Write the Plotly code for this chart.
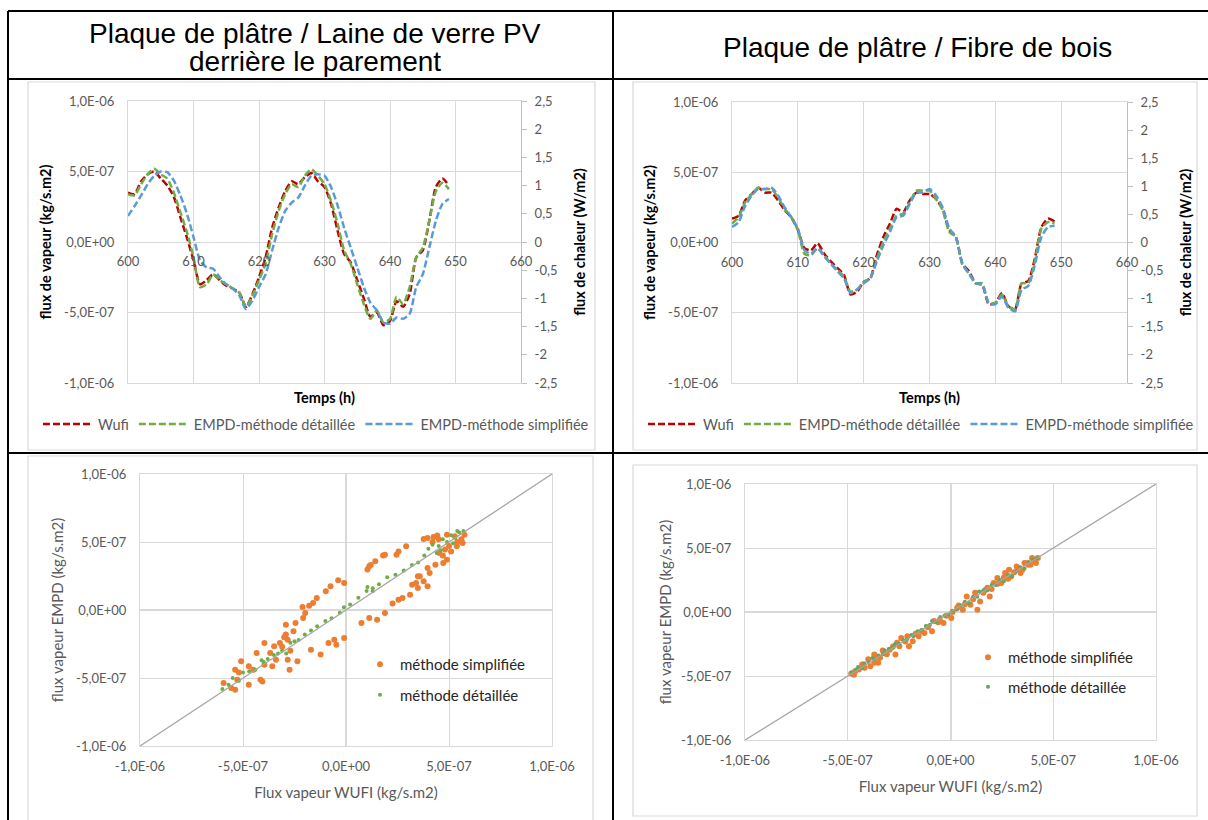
import plotly.graph_objects as go

W, H = 1208, 820
FONT = "Lato"
TITLE_FONT = "Liberation Sans"

# ---------------- data ----------------
hours = list(range(600, 650))

# top-left : Plaque de platre / Laine de verre PV (values in 1e-7 kg/s.m2)
wufi_pv = [3.5, 3.4, 4.3, 4.8, 5.0, 4.5, 4.0, 3.2, 1.75, 0.3,
           -1.3, -3.0, -2.7, -2.3, -2.7, -3.1, -3.3, -3.6, -4.6, -3.7,
           -2.5, -1.1, 1.0, 2.45, 3.6, 4.3, 4.1, 4.6, 4.9, 4.3,
           3.9, 2.7, 0.8, -0.85, -1.45, -2.7, -4.0, -5.3, -5.0, -5.9,
           -5.6, -4.2, -4.6, -3.7, -1.1, -0.6, 1.5, 3.9, 4.5, 4.0]
det_pv = [3.4, 3.3, 4.1, 4.8, 5.2, 4.8, 4.5, 3.5, 2.1, 0.7,
          -1.1, -3.2, -3.0, -2.3, -2.7, -3.0, -3.3, -3.6, -4.6, -3.8,
          -2.7, -1.55, 0.55, 2.2, 3.4, 4.1, 3.9, 4.7, 5.15, 4.7,
          4.1, 2.9, 1.3, -0.6, -1.55, -3.0, -4.4, -5.45, -4.85, -5.7,
          -5.45, -3.9, -4.4, -3.2, -1.1, -0.4, 1.5, 3.6, 4.2, 3.75]
simp_pv = [1.85, 2.55, 3.3, 4.1, 4.7, 5.0, 4.95, 4.35, 3.3, 2.0,
           0.35, -1.3, -1.8, -1.9, -2.5, -3.0, -3.3, -3.8, -4.75, -4.15,
           -3.2, -2.3, -0.6, 1.0, 2.2, 2.8, 3.15, 4.0, 4.7, 4.8,
           4.7, 3.9, 2.6, 1.0, -0.4, -1.8, -3.2, -4.3, -4.85, -5.7,
           -5.8, -5.35, -5.45, -5.1, -3.2, -2.3, -0.4, 1.5, 2.7, 3.05]

# top-right : Plaque de platre / Fibre de bois (values in 1e-7 kg/s.m2)
wufi_fb = [1.7, 1.9, 3.0, 3.45, 3.9, 3.55, 3.55, 3.0, 2.3, 1.8,
           0.9, -0.4, -0.55, -0.05, -0.8, -1.35, -1.8, -2.3, -3.7, -3.5,
           -2.8, -2.55, -0.9, 0.4, 1.35, 2.4, 2.15, 3.0, 3.55, 3.45,
           3.45, 3.1, 2.4, 0.9, 0.4, -1.5, -2.05, -2.9, -3.0, -4.4,
           -4.3, -3.6, -4.55, -4.75, -2.9, -2.75, -1.15, 1.1, 1.7, 1.5]
det_fb = [1.35, 1.8, 2.85, 3.45, 3.9, 3.8, 3.8, 3.2, 2.4, 1.8,
          0.9, -0.8, -0.9, -0.4, -0.9, -1.5, -1.95, -2.4, -3.5, -3.35,
          -2.8, -2.55, -1.15, 0.05, 1.0, 1.9, 2.05, 2.85, 3.7, 3.7,
          3.7, 3.1, 2.3, 0.75, 0.4, -1.6, -2.2, -2.9, -2.9, -4.3,
          -4.3, -3.7, -4.55, -4.75, -2.9, -2.9, -1.35, 1.0, 1.45, 1.35]
simp_fb = [1.1, 1.45, 2.6, 3.35, 3.8, 3.8, 3.9, 3.35, 2.5, 1.8,
           1.0, -0.55, -0.8, -0.4, -1.0, -1.5, -2.05, -2.55, -3.6, -3.35,
           -2.9, -2.55, -1.35, -0.2, 0.75, 1.8, 1.9, 2.75, 3.55, 3.55,
           3.8, 3.35, 2.5, 1.0, 0.4, -1.5, -2.2, -2.9, -3.0, -4.3,
           -4.4, -3.85, -4.65, -4.9, -3.35, -3.1, -1.6, 0.4, 1.1, 1.2]

# bottom-left scatter (WUFI, EMPD) in 1e-6 kg/s.m2
pv_simp = [(0.377, 0.522), (0.396, 0.529), (0.425, 0.537), (0.443, 0.547), (0.49, 0.554),
           (0.528, 0.542), (0.575, 0.554), (0.566, 0.493), (0.538, 0.468), (0.51, 0.431),
           (0.481, 0.444), (0.453, 0.419), (0.472, 0.346), (0.49, 0.37), (0.434, 0.333),
           (0.396, 0.309), (0.406, 0.272), (0.358, 0.248), (0.377, 0.211), (0.34, 0.199),
           (0.396, 0.174), (0.349, 0.248), (0.321, 0.186), (0.45, 0.52), (0.42, 0.50),
           (0.47, 0.40), (0.50, 0.47), (0.54, 0.50), (0.56, 0.52),
           (0.292, 0.468), (0.255, 0.431), (0.245, 0.407), (0.189, 0.407), (0.142, 0.358),
           (0.113, 0.321), (0.104, 0.297), (0.12, 0.33), (0.18, 0.40),
           (-0.038, 0.218), (-0.009, 0.199), (-0.075, 0.174), (-0.098, 0.137), (-0.142, 0.088),
           (-0.16, 0.051), (-0.179, 0.032), (-0.211, 0.022), (-0.198, -0.022), (-0.208, -0.059),
           (-0.245, -0.096), (-0.292, -0.108), (-0.255, -0.157), (-0.292, -0.181), (-0.283, -0.218),
           (-0.321, -0.243), (-0.349, -0.267), (-0.368, -0.316), (-0.396, -0.243), (-0.434, -0.316),
           (-0.396, -0.402), (-0.358, -0.414), (-0.283, -0.365), (-0.236, -0.377), (-0.274, -0.439),
           (-0.34, -0.365), (-0.472, -0.414), (-0.509, -0.377), (-0.538, -0.439), (-0.528, -0.512),
           (-0.538, -0.586), (-0.557, -0.574), (-0.594, -0.537), (-0.472, -0.549), (-0.415, -0.512),
           (-0.406, -0.525), (-0.30, -0.20), (-0.31, -0.27), (-0.27, -0.30), (-0.45, -0.44),
           (-0.52, -0.46),
           (-0.17, -0.292), (-0.123, -0.328), (-0.085, -0.243), (-0.057, -0.218), (-0.047, -0.255),
           (-0.009, -0.206), (0.075, -0.096), (0.113, -0.059), (0.151, -0.071), (0.189, -0.022),
           (0.226, 0.047), (0.255, 0.076), (0.274, 0.088), (0.311, 0.113), (0.349, 0.162)]
pv_det = [(-0.60, -0.58), (-0.57, -0.55), (-0.55, -0.50), (-0.52, -0.52), (-0.50, -0.46),
          (-0.47, -0.45), (-0.44, -0.44), (-0.41, -0.37), (-0.40, -0.38), (-0.38, -0.36),
          (-0.35, -0.33), (-0.33, -0.32), (-0.31, -0.30), (-0.29, -0.32), (-0.27, -0.24),
          (-0.25, -0.23), (-0.23, -0.22), (-0.20, -0.18), (-0.17, -0.15), (-0.14, -0.12),
          (-0.10, -0.08), (-0.07, -0.06), (-0.03, -0.02), (-0.01, 0.02), (0.02, 0.04),
          (0.06, 0.09), (0.10, 0.14), (0.104, 0.169), (0.13, 0.137), (0.13, 0.16),
          (0.16, 0.19), (0.20, 0.24), (0.24, 0.26), (0.28, 0.29), (0.32, 0.33),
          (0.35, 0.35), (0.38, 0.40), (0.40, 0.45), (0.42, 0.48), (0.45, 0.47),
          (0.47, 0.52), (0.49, 0.50), (0.51, 0.55), (0.53, 0.53), (0.55, 0.57),
          (0.57, 0.58), (0.52, 0.49), (0.46, 0.44), (0.44, 0.42), (0.54, 0.58)]

# bottom-right scatter (WUFI, EMPD) in 1e-6 kg/s.m2
fb_simp = [(-0.483, -0.48), (-0.464, -0.462), (-0.446, -0.449), (-0.418, -0.436), (-0.39, -0.423),
           (-0.371, -0.397), (-0.352, -0.397), (-0.343, -0.358), (-0.371, -0.332), (-0.324, -0.319),
           (-0.296, -0.294), (-0.268, -0.332), (-0.249, -0.268), (-0.24, -0.203), (-0.202, -0.268),
           (-0.184, -0.229), (-0.155, -0.19), (-0.127, -0.164), (-0.09, -0.151), (-0.052, -0.06),
           (-0.034, -0.086), (0.004, -0.047), (0.032, 0.031), (0.06, 0.018), (0.079, 0.122),
           (0.097, 0.057), (0.131, 0.018), (0.144, 0.083), (0.172, 0.174), (0.191, 0.122),
           (0.21, 0.226), (0.228, 0.265), (0.247, 0.226), (0.266, 0.304), (0.285, 0.33),
           (0.294, 0.278), (0.322, 0.356), (0.341, 0.304), (0.36, 0.382), (0.378, 0.369),
           (0.397, 0.421), (0.416, 0.382), (0.425, 0.421),
           (-0.47, -0.49), (-0.43, -0.41), (-0.40, -0.37), (-0.36, -0.35), (-0.33, -0.30),
           (-0.31, -0.33), (-0.28, -0.27), (-0.26, -0.24), (-0.22, -0.23), (-0.21, -0.19),
           (-0.17, -0.17), (-0.14, -0.15), (-0.11, -0.12), (-0.08, -0.07), (-0.06, -0.08),
           (-0.02, -0.03), (0.01, 0.0), (0.04, 0.05), (0.07, 0.06), (0.11, 0.10),
           (0.12, 0.15), (0.16, 0.15), (0.18, 0.19), (0.20, 0.18), (0.23, 0.22),
           (0.26, 0.27), (0.28, 0.26), (0.31, 0.31), (0.33, 0.34), (0.35, 0.33),
           (0.37, 0.38), (0.39, 0.37), (0.41, 0.40)]
fb_det = [(-0.48, -0.47), (-0.46, -0.45), (-0.45, -0.43), (-0.43, -0.44), (-0.42, -0.40),
          (-0.40, -0.39), (-0.38, -0.36), (-0.37, -0.37), (-0.35, -0.34), (-0.33, -0.33),
          (-0.32, -0.30), (-0.30, -0.29), (-0.28, -0.28), (-0.27, -0.25), (-0.25, -0.25),
          (-0.23, -0.22), (-0.21, -0.21), (-0.19, -0.18), (-0.18, -0.19), (-0.16, -0.15),
          (-0.14, -0.14), (-0.12, -0.11), (-0.10, -0.10), (-0.09, -0.07), (-0.07, -0.08),
          (-0.05, -0.04), (-0.03, -0.03), (-0.01, -0.02), (0.01, 0.01), (0.03, 0.02),
          (0.05, 0.05), (0.07, 0.08), (0.09, 0.07), (0.11, 0.12), (0.13, 0.12),
          (0.14, 0.16), (0.16, 0.17), (0.18, 0.17), (0.20, 0.21), (0.22, 0.21),
          (0.24, 0.25), (0.26, 0.24), (0.28, 0.29), (0.30, 0.28), (0.32, 0.32),
          (0.34, 0.35), (0.36, 0.34), (0.38, 0.39), (0.40, 0.41), (0.42, 0.42)]

diag = [-1e-6, 1e-6]

title_left = ["Plaque de plâtre / Laine de verre PV", "derrière le parement"]
title_right = "Plaque de plâtre / Fibre de bois"
series_names = ["Wufi", "EMPD-méthode détaillée", "EMPD-méthode simplifiée"]
scatter_names = ["méthode simplifiée", "méthode détaillée"]

vap_ticks = [1e-6, 5e-7, 0, -5e-7, -1e-6]
vap_labels = ["1,0E-06", "5,0E-07", "0,0E+00", "-5,0E-07", "-1,0E-06"]
heat_ticks = [2.5, 2, 1.5, 1, 0.5, 0, -0.5, -1, -1.5, -2, -2.5]
heat_labels = ["2,5", "2", "1,5", "1", "0,5", "0", "-0,5", "-1", "-1,5", "-2", "-2,5"]
time_ticks = [600, 610, 620, 630, 640, 650, 660]
time_labels = ["600", "610", "620", "630", "640", "650", "660"]

# ---------------- styles ----------------
RED, GREEN, BLUE = "#C00000", "#70AD47", "#5B9BD5"
ORANGE = "#ED7D31"
GRID = "#d9d9d9"
TXT = "#595959"
DASH = "7px,3px"


def e7(vals):
    return [v * 1e-7 for v in vals]


def e6(vals):
    return [v * 1e-6 for v in vals]


fig = go.Figure()

tops = [
    dict(x="x", y="y", xf="x2", yr="y2", leg="legend", data=[wufi_pv, det_pv, simp_pv]),
    dict(x="x3", y="y3", xf="x4", yr="y4", leg="legend2", data=[wufi_fb, det_fb, simp_fb]),
]
for t in tops:
    for name, vals, col in zip(series_names, t["data"], [RED, GREEN, BLUE]):
        fig.add_trace(go.Scatter(x=hours, y=e7(vals), xaxis=t["x"], yaxis=t["y"], mode="lines",
                                 name=name, legend=t["leg"],
                                 line=dict(color=col, width=2.5, dash=DASH, shape="spline", smoothing=0.6)))
    fig.add_trace(go.Scatter(x=[None], y=[None], xaxis=t["xf"], yaxis=t["y"], showlegend=False, hoverinfo="skip"))
    fig.add_trace(go.Scatter(x=[None], y=[None], xaxis=t["x"], yaxis=t["yr"], showlegend=False, hoverinfo="skip"))

bots = [
    dict(x="x5", y="y5", leg="legend3", simp=pv_simp, det=pv_det, gcol=GREEN, gsize=4),
    dict(x="x6", y="y6", leg="legend4", simp=fb_simp, det=fb_det, gcol="#5fa85f", gsize=4),
]
for b in bots:
    fig.add_trace(go.Scatter(x=e6([p[0] for p in b["simp"]]), y=e6([p[1] for p in b["simp"]]),
                             xaxis=b["x"], yaxis=b["y"], mode="markers", name=scatter_names[0],
                             legend=b["leg"], legendgroup=b["leg"] + "a",
                             marker=dict(color=ORANGE, size=6)))
    fig.add_trace(go.Scatter(x=e6([p[0] for p in b["det"]]), y=e6([p[1] for p in b["det"]]),
                             xaxis=b["x"], yaxis=b["y"], mode="markers", name=scatter_names[1],
                             legend=b["leg"], legendgroup=b["leg"] + "b",
                             marker=dict(color=b["gcol"], size=b["gsize"])))
    fig.add_trace(go.Scatter(x=diag, y=diag, xaxis=b["x"], yaxis=b["y"], mode="lines",
                             line=dict(color="#a6a6a6", width=1.3), showlegend=False, hoverinfo="skip"))


def px(p):
    return p / W


def py(p):
    return 1 - p / H


tick_font = dict(family=FONT, size=13, color=TXT)
bold_title = dict(family=FONT, size=14.5, color="black")
gray_title = dict(family=FONT, size=15, color=TXT)


def top_axes(xd, yd):
    ymid = (yd[0] + yd[1]) / 2
    xa = dict(domain=xd, range=[600, 660], tickvals=time_ticks, showticklabels=False,
              showgrid=True, gridcolor=GRID, showline=True, mirror=True, linecolor=GRID,
              zeroline=False, automargin=False,
              title=dict(text="<b>Temps (h)</b>", font=bold_title, standoff=9))
    xf = dict(range=[600, 660], tickvals=time_ticks, ticktext=time_labels, anchor="free",
              position=ymid, showgrid=False, showline=False, zeroline=False, ticks="",
              ticklabelstandoff=10, tickfont=tick_font, automargin=False)
    ya = dict(domain=yd, range=[-1e-6, 1e-6], tickvals=vap_ticks, ticktext=vap_labels,
              showgrid=True, gridcolor=GRID, zeroline=True, zerolinecolor=GRID, zerolinewidth=1,
              showline=True, mirror=True, linecolor=GRID, ticks="", ticklabelstandoff=10,
              tickfont=tick_font, automargin=False,
              title=dict(text="<b>flux de vapeur (kg/s.m2)</b>", font=bold_title, standoff=9))
    yr = dict(range=[-2.5, 2.5], tickvals=heat_ticks, ticktext=heat_labels, side="right",
              showgrid=False, zeroline=False, showline=True, linecolor="#bfbfbf",
              ticks="outside", ticklen=5, tickcolor="#bfbfbf", ticklabelstandoff=5,
              tickfont=tick_font, automargin=False,
              title=dict(text="<b>flux de chaleur (W/m2)</b>", font=bold_title, standoff=18))
    return xa, xf, ya, yr


def bot_axes(xd, yd, ystand, xstand):
    xa = dict(domain=xd, range=[-1e-6, 1e-6], tickvals=vap_ticks, ticktext=vap_labels,
              showgrid=True, gridcolor=GRID, zeroline=True, zerolinecolor=GRID, showline=True,
              mirror=True, linecolor=GRID, ticks="", tickfont=tick_font, ticklabelstandoff=8,
              automargin=False,
              title=dict(text="Flux vapeur WUFI (kg/s.m2)", font=gray_title, standoff=xstand))
    ya = dict(domain=yd, range=[-1e-6, 1e-6], tickvals=vap_ticks, ticktext=vap_labels,
              showgrid=True, gridcolor=GRID, zeroline=True, zerolinecolor=GRID, showline=True,
              mirror=True, linecolor=GRID, ticks="", tickfont=tick_font, ticklabelstandoff=10,
              automargin=False,
              title=dict(text="flux vapeur EMPD (kg/s.m2)", font=gray_title, standoff=ystand))
    return xa, ya


xa1, xf1, ya1, yr1 = top_axes([px(128), px(521)], [py(383), py(101)])
xa1.update(anchor="y"); xf1.update(overlaying="x"); ya1.update(anchor="x"); yr1.update(anchor="x", overlaying="y")
xa3, xf3, ya3, yr3 = top_axes([px(732), px(1127)], [py(383), py(102)])
xa3.update(anchor="y3"); xf3.update(overlaying="x3"); ya3.update(anchor="x3"); yr3.update(anchor="x3", overlaying="y3")
xa5, ya5 = bot_axes([px(140), px(552)], [py(746), py(474)], 8, 14)
xa5.update(anchor="y5"); ya5.update(anchor="x5")
xa6, ya6 = bot_axes([px(745), px(1156)], [py(740), py(484)], 5, 14)
xa6.update(anchor="y6"); ya6.update(anchor="x6")

leg_font = dict(family=FONT, size=14.5, color=TXT)
leg_scatter_font = dict(family=FONT, size=15, color="#262626")

fig.update_layout(
    width=W, height=H, margin=dict(l=0, r=0, t=0, b=0, autoexpand=False),
    paper_bgcolor="white", plot_bgcolor="white",
    xaxis=xa1, xaxis2=xf1, yaxis=ya1, yaxis2=yr1,
    xaxis3=xa3, xaxis4=xf3, yaxis3=ya3, yaxis4=yr3,
    xaxis5=xa5, yaxis5=ya5, xaxis6=xa6, yaxis6=ya6,
    legend=dict(orientation="h", x=px(316), xanchor="center", y=py(424), yanchor="middle",
                font=leg_font, bgcolor="rgba(0,0,0,0)", itemwidth=50),
    legend2=dict(orientation="h", x=px(921), xanchor="center", y=py(424), yanchor="middle",
                 font=leg_font, bgcolor="rgba(0,0,0,0)", itemwidth=50),
    legend3=dict(orientation="v", x=px(360), xanchor="left", y=py(648), yanchor="top",
                 font=leg_scatter_font, bgcolor="rgba(0,0,0,0)", itemwidth=30, tracegroupgap=8),
    legend4=dict(orientation="v", x=px(968), xanchor="left", y=py(641), yanchor="top",
                 font=leg_scatter_font, bgcolor="rgba(0,0,0,0)", itemwidth=30, tracegroupgap=7),
    showlegend=True,
)

tfont = dict(family=TITLE_FONT, size=28, color="black")
fig.add_annotation(text=title_left[0], x=px(315), y=py(33), xref="paper", yref="paper",
                   showarrow=False, font=tfont, xanchor="center", yanchor="middle")
fig.add_annotation(text=title_left[1], x=px(315), y=py(62), xref="paper", yref="paper",
                   showarrow=False, font=tfont, xanchor="center", yanchor="middle")
fig.add_annotation(text=title_right, x=px(917), y=py(47), xref="paper", yref="paper",
                   showarrow=False, font=tfont, xanchor="center", yanchor="middle")

shapes = []
for (x0, y0, x1, y1) in [(28, 82, 595, 450), (633, 82, 1197, 450), (28, 456, 593, 830), (633, 465, 1197, 816)]:
    shapes.append(dict(type="rect", xref="paper", yref="paper", x0=px(x0), x1=px(x1), y0=py(y1), y1=py(y0),
                       line=dict(color=GRID, width=1.2), layer="below"))
black = dict(color="black", width=2)
shapes += [
    dict(type="line", xref="paper", yref="paper", x0=px(8), x1=1, y0=py(11), y1=py(11), line=black),
    dict(type="line", xref="paper", yref="paper", x0=px(8), x1=1, y0=py(79), y1=py(79), line=black),
    dict(type="line", xref="paper", yref="paper", x0=px(8), x1=1, y0=py(453), y1=py(453), line=black),
    dict(type="line", xref="paper", yref="paper", x0=px(8), x1=px(8), y0=py(11), y1=0, line=black),
    dict(type="line", xref="paper", yref="paper", x0=px(613), x1=px(613), y0=py(11), y1=0, line=black),
]
fig.update_layout(shapes=shapes)

fig.write_html("out.html")
